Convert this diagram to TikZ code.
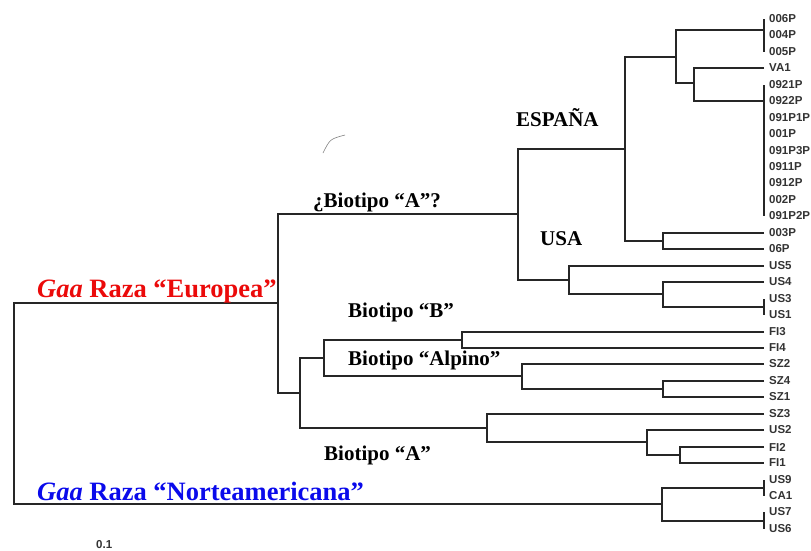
\documentclass[tikz,border=0pt]{standalone}
\usepackage{fontspec}
\setmainfont{Liberation Serif}
\setsansfont{Liberation Sans}
\definecolor{eured}{RGB}{235,10,10}
\definecolor{nablue}{RGB}{10,10,235}
\begin{document}
\begin{tikzpicture}[x=1pt,y=-1pt,
  tree/.style={line width=2pt, black!85, line join=miter},
  leaf/.style={anchor=west, font=\sffamily\bfseries\fontsize{11.5}{12}\selectfont, inner sep=0pt, text=black!80},
  lab/.style={anchor=base west, font=\bfseries\fontsize{21}{24}\selectfont, inner sep=0pt},
  big/.style={anchor=base west, font=\bfseries\fontsize{26.5}{28}\selectfont, inner sep=0pt}]
\useasboundingbox (0,0) rectangle (811,550);
\foreach \n [count=\i from 0] in {006P,004P,005P,VA1,0921P,0922P,091P1P,001P,091P3P,0911P,0912P,002P,091P2P,003P,06P,US5,US4,US3,US1,FI3,FI4,SZ2,SZ4,SZ1,SZ3,US2,FI2,FI1,US9,CA1,US7,US6} {
  \coordinate (l\i) at (764,{round(19+16.45*\i)});
  \node[leaf] (t\i) at (769,{round(19+16.45*\i)}) {\n};
}
% polytomy bars
\draw[tree] (l0) -- (l2);
\draw[tree] (l4) -- (l12);
\draw[tree] (l17) -- (l18);
\draw[tree] (l28) -- (l29);
\draw[tree] (l30) -- (l31);
\coordinate (p1) at (764,30);
\coordinate (p3) at (764,307);
\coordinate (p4) at (764,488);
\coordinate (p5) at (764,521);
% internal nodes
\coordinate (nva) at (694,83);
\coordinate (na) at (676,57);
\coordinate (nb) at (663,241);
\coordinate (nesp) at (625,149);
\coordinate (nus) at (663,294);
\coordinate (nusa) at (569,280);
\coordinate (n1) at (518,214);
\coordinate (nfi) at (462,340);
\coordinate (nsz) at (663,389);
\coordinate (nalp) at (522,376);
\coordinate (n2) at (324,358);
\coordinate (nf) at (680,455);
\coordinate (ng) at (647,442);
\coordinate (n3) at (487,428);
\coordinate (n4) at (300,393);
\coordinate (neu) at (278,303);
\coordinate (nna) at (662,504);
\coordinate (root) at (14,404);
\draw[tree] (l3) -| (nva) |- (l5);
\draw[tree] (p1) -| (na) |- (nva);
\draw[tree] (l13) -| (nb) |- (l14);
\draw[tree] (na) -| (nesp) |- (nb);
\draw[tree] (l16) -| (nus) |- (p3);
\draw[tree] (l15) -| (nusa) |- (nus);
\draw[tree] (nesp) -| (n1) |- (nusa);
\draw[tree] (l19) -| (nfi) |- (l20);
\draw[tree] (l22) -| (nsz) |- (l23);
\draw[tree] (l21) -| (nalp) |- (nsz);
\draw[tree] (nfi) -| (n2) |- (nalp);
\draw[tree] (l26) -| (nf) |- (l27);
\draw[tree] (l25) -| (ng) |- (nf);
\draw[tree] (l24) -| (n3) |- (ng);
\draw[tree] (n2) -| (n4) |- (n3);
\draw[tree] (n1) -| (neu) |- (n4);
\draw[tree] (p4) -| (nna) |- (p5);
\draw[tree] (neu) -| (root) |- (nna);
% labels
\node[lab] (esp) at (516,126) {ESPAÑA};
\node[lab] (usa) at (540,245) {USA};
\node[lab] (bq) at (313,207) {¿Biotipo “A”?};
\node[lab] (bb) at (348,317) {Biotipo “B”};
\node[lab] (balp) at (348,365) {Biotipo “Alpino”};
\node[lab] (ba) at (324,460) {Biotipo “A”};
\node[big, text=eured] (eu) at (37,297) {\textit{Gaa} Raza “Europea”};
\node[big, text=nablue] (nam) at (37,500) {\textit{Gaa} Raza “Norteamericana”};
\node[leaf, anchor=base west] (scale) at (96,548) {0.1};
\draw[gray, line width=0.6pt] (323,153) .. controls (330,139) .. (345,135);
\end{tikzpicture}
\end{document}
